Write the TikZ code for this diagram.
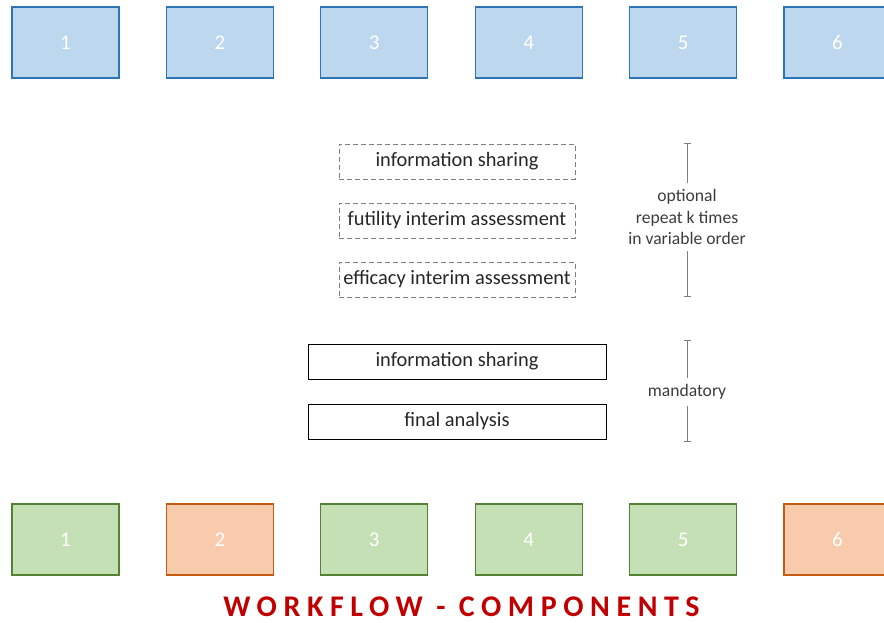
\documentclass[tikz,border=0pt]{standalone}
\usepackage{fontspec}
\setmainfont{Carlito}
\usetikzlibrary{arrows.meta}
\definecolor{bluefill}{HTML}{BDD7EE}
\definecolor{blueline}{HTML}{2E75B6}
\definecolor{greenfill}{HTML}{C5E0B4}
\definecolor{greenline}{HTML}{548235}
\definecolor{orangefill}{HTML}{F8CBAD}
\definecolor{orangeline}{HTML}{C55A11}
\definecolor{titlered}{HTML}{C00000}
\definecolor{txt}{HTML}{262626}
\definecolor{brk}{HTML}{7F7F7F}
\tikzset{
  sq/.style={minimum width=107pt,minimum height=71pt,inner sep=0pt,line width=1.3pt,text=white,font=\fontsize{21}{24}\selectfont},
  bluebox/.style={sq,fill=bluefill,draw=blueline},
  greenbox/.style={sq,fill=greenfill,draw=greenline},
  orangebox/.style={sq,fill=orangefill,draw=orangeline},
  optbox/.style={draw=brk,dash pattern=on 5pt off 3pt,line width=0.9pt,minimum width=236pt,minimum height=35pt,inner sep=0pt,text=txt,font=\fontsize{20.4}{24}\selectfont},
  manbox/.style={draw=black,line width=0.9pt,minimum width=298pt,minimum height=35pt,inner sep=0pt,text=txt,font=\fontsize{20.4}{24}\selectfont},
  brlabel/.style={text=txt!90,font=\fontsize{17.6}{21.5}\selectfont,align=center,inner sep=6pt},
  brline/.style={draw=brk,line width=0.8pt},
}
\begin{document}
\begin{tikzpicture}[x=1pt,y=-1pt]
\useasboundingbox (0,0) rectangle (884,623);
\clip (0,0) rectangle (884,623);
% top row
\node[bluebox] (t1) at (65.5,42.5) {1};
\node[bluebox] (t2) at (219.9,42.5) {2};
\node[bluebox] (t3) at (374.3,42.5) {3};
\node[bluebox] (t4) at (528.7,42.5) {4};
\node[bluebox] (t5) at (683.1,42.5) {5};
\node[bluebox] (t6) at (837.5,42.5) {6};
% optional boxes
\node[optbox] (o1) at (457,161.5) {information sharing};
\node[optbox] (o2) at (457,220.5) {futility interim assessment};
\node[optbox] (o3) at (457,279.5) {efficacy interim assessment};
% mandatory boxes
\node[manbox] (m1) at (457,361.5) {information sharing};
\node[manbox] (m2) at (457,421.5) {final analysis};
% brackets
\node[brlabel] (optl) at (687,217) {optional\\repeat k times\\in variable order};
\coordinate (optTop) at (687,143);
\coordinate (optBot) at (687,297);
\draw[brline,{Bar[width=7pt]}-] (optTop) -- (optl.north);
\draw[brline,-{Bar[width=7pt]}] (optl.south) -- (optBot);
\node[brlabel] (manl) at (687,392) {mandatory};
\coordinate (manTop) at (687,340);
\coordinate (manBot) at (687,442);
\draw[brline,{Bar[width=7pt]}-] (manTop) -- (manl.north);
\draw[brline,-{Bar[width=7pt]}] (manl.south) -- (manBot);
% bottom row
\node[greenbox] (b1) at (65.5,539.5) {1};
\node[orangebox] (b2) at (219.9,539.5) {2};
\node[greenbox] (b3) at (374.3,539.5) {3};
\node[greenbox] (b4) at (528.7,539.5) {4};
\node[greenbox] (b5) at (683.1,539.5) {5};
\node[orangebox] (b6) at (837.5,539.5) {6};
% title
\node[text=titlered,font=\fontsize{30}{34}\selectfont\bfseries\addfontfeature{LetterSpace=22}] (title) at (461.5,607) {WORKFLOW - COMPONENTS};
\end{tikzpicture}
\end{document}
